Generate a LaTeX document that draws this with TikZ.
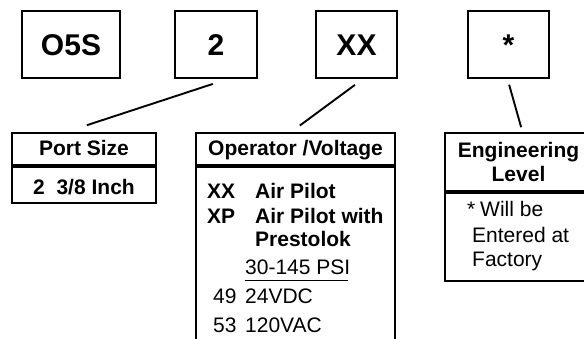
\documentclass[tikz,border=0pt]{standalone}
\usepackage{fontspec}
\setmainfont{Liberation Sans}
\usetikzlibrary{positioning}

\tikzset{
  codebox/.style={draw, line width=1.9pt, inner sep=0pt, minimum width=81pt, minimum height=67pt,
    text height=22pt, text depth=0pt, font=\fontsize{30}{36}\selectfont\bfseries},
  headbox/.style={draw, line width=1.9pt, inner sep=0pt, font=\fontsize{21}{24}\selectfont\bfseries},
  bodybox/.style={draw, line width=1.9pt, inner sep=0pt},
  entry/.style={anchor=base west, inner sep=0pt, font=\fontsize{21}{24}\selectfont},
  boldentry/.style={entry, font=\fontsize{21}{24}\selectfont\bfseries},
  link/.style={line width=1.9pt},
}

\begin{document}
\begin{tikzpicture}[x=1pt, y=-1pt]
  \useasboundingbox (0,0) rectangle (584,339);
  \node [codebox, minimum width=98pt] (series) at (71,44.5) {O5S};
  \node [codebox, minimum width=82pt] (portcode) at (216,44.5) {2};
  \node [codebox] (opcode) at (356.5,44.5) {XX};
  \node [codebox] (levelcode) at (508.5,44.5) {*};

  \node [headbox, minimum width=144pt, minimum height=32pt, text height=14pt, text depth=0pt] (porthead) at (84,149) {Port Size};
  \node [bodybox, below=0pt of porthead, minimum width=144pt, minimum height=36pt, text height=20pt, text depth=0pt,
    font=\fontsize{21}{24}\selectfont\bfseries] (portbody) {2\ \ 3/8 Inch};

  \node [headbox, minimum width=199pt, minimum height=32pt, text height=14pt, text depth=0pt] (ophead) at (295.5,149) {Operator /Voltage};
  \node [bodybox, below=0pt of ophead, minimum width=199pt, minimum height=190pt] (opbody) {};
  \node [boldentry] (xx) at (207,199) {XX};
  \node [boldentry] (xxtext) at (255,199) {Air Pilot};
  \node [boldentry] (xp) at (207,224) {XP};
  \node [boldentry] (xptext) at (255,224) {Air Pilot with};
  \node [boldentry] (xptext2) at (255,247) {Prestolok};
  \node [entry] (psi) at (245,275) {30-145 PSI};
  \draw [line width=0.8pt] (psi.base west) ++(0,5) -- ++(103,0);
  \node [entry] (dc) at (213,304) {49};
  \node [entry] (dctext) at (245,304) {24VDC};
  \node [entry] (ac) at (213,332) {53};
  \node [entry] (actext) at (245,332) {120VAC};

  \node [headbox, minimum width=147pt, minimum height=58pt, align=center] (levelhead) at (518.5,162) {Engineering\\Level};
  \node [bodybox, below=0pt of levelhead, minimum width=147pt, minimum height=88pt] (levelbody) {};
  \node [entry] (star) at (467,217) {*};
  \node [entry] (note1) at (480,217) {Will be};
  \node [entry] (note2) at (472,243) {Entered at};
  \node [entry] (note3) at (472,267) {Factory};

  \draw [link, shorten <=16pt, shorten >=22pt] ([xshift=12pt]portcode.south) -- ([xshift=-18pt]porthead.north);
  \draw [link, shorten <=10pt, shorten >=11pt] ([xshift=6.5pt]opcode.south) -- ([xshift=-4.5pt]ophead.north);
  \draw [link, shorten <=6pt, shorten >=5pt] ([xshift=-1pt]levelcode.south) -- ([xshift=4pt]levelhead.north);
\end{tikzpicture}
\end{document}
